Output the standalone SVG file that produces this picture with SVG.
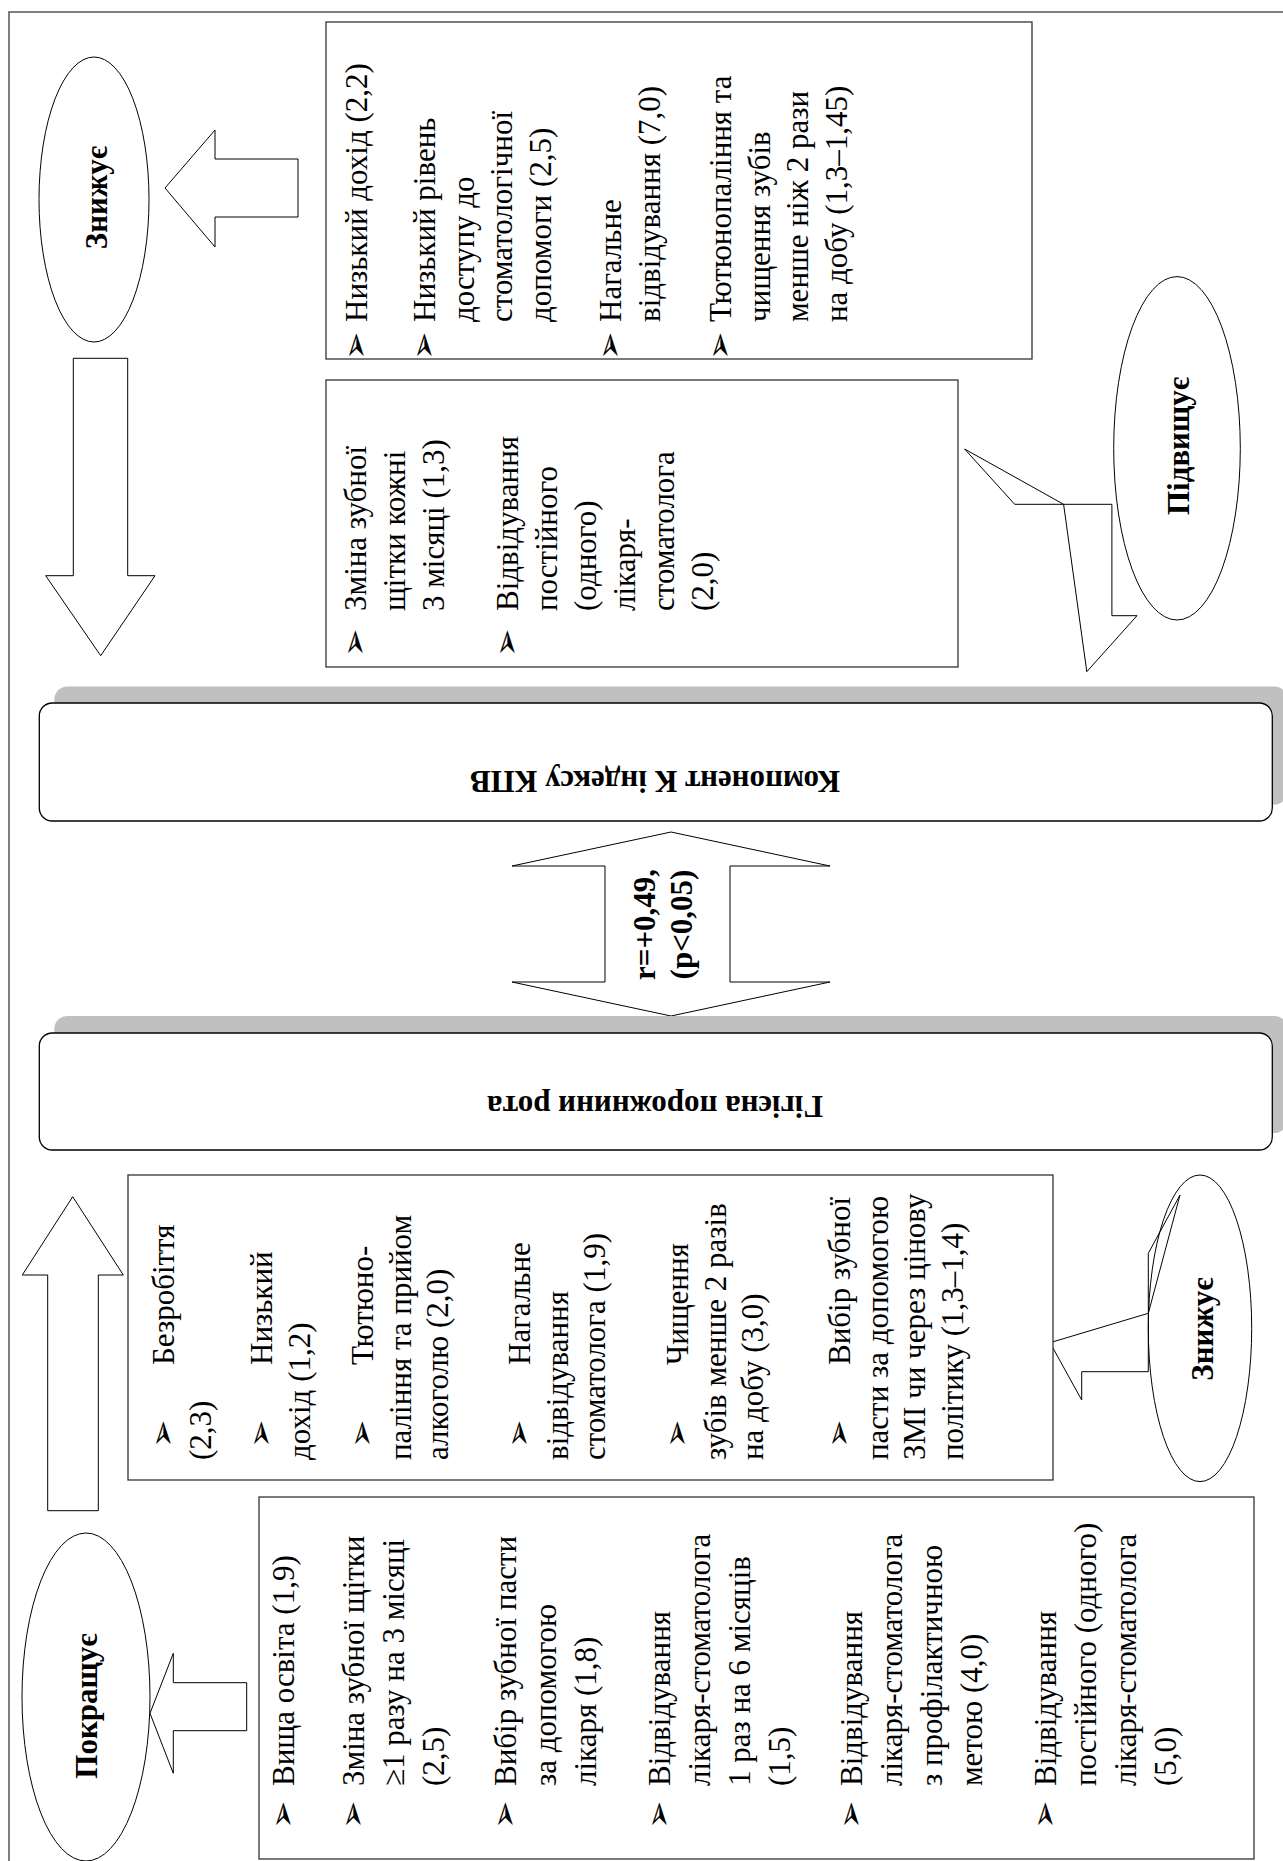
<svg xmlns="http://www.w3.org/2000/svg" width="1283" height="1861" viewBox="0 0 1283 1861">
<defs>
<style>
.frame{fill:none;stroke:#555;stroke-width:1.5}
.box{fill:#fff;stroke:#333;stroke-width:1.3}
.ell{fill:#fff;stroke:#000;stroke-width:1}
.arr{fill:#fff;stroke:#000;stroke-width:1;stroke-linejoin:miter}
.shp{fill:none;stroke:#000;stroke-width:1}
.shadow{fill:#c0c0c0}
.bar{fill:#fff;stroke:#000;stroke-width:1.3}
.t{font-family:"Liberation Serif","Times New Roman",serif;font-size:31px;fill:#000}
.lbl{font-family:"Liberation Serif","Times New Roman",serif;font-weight:bold;font-size:31px;fill:#000;text-anchor:middle}
.bul{font-family:"DejaVu Sans",sans-serif;font-size:34px;fill:#000}
</style>
</defs>
<rect width="1283" height="1861" fill="#fff"/>
<path class="frame" d="M9,1861 V12 H1283"/>

<g id="connectors">
  <polygon class="arr" points="165,188 215,130 215,159 298,159 298,217 215,217 215,247"/>
  <polygon class="arr" points="73.3,358.3 127.7,358.3 127.7,575.7 155,575.7 100.7,655.7 45.7,575.7 73.3,575.7"/>
  <polygon class="arr" points="671,832 830,866 730,866 730,982 830,982 671,1016 512,982 605,982 605,866 512,866"/>
  <polygon class="arr" points="72.7,1196.7 123.3,1275 98.3,1275 98.3,1510.7 47.7,1510.7 47.7,1275 22.3,1275"/>
  <polygon class="arr" points="150,1713.3 173.3,1653.3 173.3,1682.7 246.7,1682.7 246.7,1730.7 173.3,1730.7 173.3,1773.3"/>
</g>

<g id="ellipse-znyzhuie-top">
  <ellipse class="ell" cx="94" cy="199.5" rx="55" ry="142.5"/>
  <text class="lbl" transform="translate(107,197.5) rotate(-90)">Знижує</text>
</g>

<g id="ellipse-pidvyshchuie">
  <ellipse class="ell" cx="1177" cy="448.3" rx="63.3" ry="171.7"/>
  <text class="lbl" transform="translate(1189,446) rotate(-90)">Підвищує</text>
</g>

<g id="ellipse-znyzhuie-bottom">
  <ellipse class="ell" cx="1200" cy="1328.3" rx="51.7" ry="153.3"/>
  <text class="lbl" transform="translate(1213,1329) rotate(-90)">Знижує</text>
</g>

<g id="ellipse-pokrashchuie">
  <ellipse class="ell" cx="86" cy="1697" rx="64" ry="164"/>
  <text class="lbl" transform="translate(97,1706) rotate(-90)">Покращує</text>
</g>

<g id="callout-arrows">
  <polygon class="shp" points="964.6,449 1014.7,504.3 1111.9,504.3 1111.9,615.7 1137,615.7 1086.8,671.7 1063.6,504.3"/>
  <polygon class="shp" points="1180,1195 1148.3,1253.3 1148.3,1371.7 1081.7,1371.7 1081.7,1400 1050,1342.7 1148.3,1313.3"/>
</g>

<g id="box-top-right">
  <rect class="box" x="326" y="22" width="706" height="337"/>
  <g transform="translate(0,322) rotate(-90)">
    <text class="bul" x="-38" y="367">➢</text>
    <text class="bul" x="-38" y="435">➢</text>
    <text class="bul" x="-38" y="621">➢</text>
    <text class="bul" x="-38" y="731">➢</text>
    <text class="t" x="0" y="367">Низький дохід (2,2)</text>
    <text class="t" x="0" y="435">Низький рівень</text>
    <text class="t" x="0" y="473.5">доступу до</text>
    <text class="t" x="0" y="512">стоматологічної</text>
    <text class="t" x="0" y="550.5">допомоги (2,5)</text>
    <text class="t" x="0" y="621">Нагальне</text>
    <text class="t" x="0" y="659.5">відвідування (7,0)</text>
    <text class="t" x="0" y="731">Тютюнопаління та</text>
    <text class="t" x="0" y="769.5">чищення зубів</text>
    <text class="t" x="0" y="808">менше ніж 2 рази</text>
    <text class="t" x="0" y="846.5">на добу (1,3–1,45)</text>
  </g>
</g>

<g id="box-middle-right">
  <rect class="box" x="326" y="380" width="632" height="287"/>
  <g transform="translate(0,611) rotate(-90)">
    <text class="bul" x="-46" y="366">➢</text>
    <text class="bul" x="-46" y="518">➢</text>
    <text class="t" x="0" y="366">Зміна зубної</text>
    <text class="t" x="0" y="405">щітки кожні</text>
    <text class="t" x="0" y="444">3 місяці (1,3)</text>
    <text class="t" x="0" y="518">Відвідування</text>
    <text class="t" x="0" y="557">постійного</text>
    <text class="t" x="0" y="596">(одного)</text>
    <text class="t" x="0" y="635">лікаря-</text>
    <text class="t" x="0" y="674">стоматолога</text>
    <text class="t" x="0" y="713">(2,0)</text>
  </g>
</g>

<g id="bar-kpv">
  <rect class="shadow" x="54.3" y="686.5" width="1233" height="118" rx="13"/>
  <rect class="bar" x="39.3" y="703" width="1233" height="118" rx="13"/>
  <text class="lbl" transform="translate(655,771) rotate(180)">Компонент К індексу КПВ</text>
</g>

<g id="correlation-label">
  <text class="lbl" transform="translate(655,924.5) rotate(-90)">r=+0,49,</text>
  <text class="lbl" transform="translate(692,924.5) rotate(-90)">(p&lt;0,05)</text>
</g>

<g id="bar-hygiene">
  <rect class="shadow" x="54.3" y="1016" width="1233" height="117" rx="13"/>
  <rect class="bar" x="39.3" y="1033" width="1233" height="117" rx="13"/>
  <text class="lbl" transform="translate(655,1096) rotate(180)">Гігієна порожнини рота</text>
</g>

<g id="box-bottom-middle">
  <rect class="box" x="128" y="1175" width="925" height="305"/>
  <g transform="translate(0,1460) rotate(-90)">
    <text class="bul" x="12" y="173.5">➢</text>
    <text class="bul" x="12" y="272">➢</text>
    <text class="bul" x="12" y="373">➢</text>
    <text class="bul" x="12" y="530">➢</text>
    <text class="bul" x="12" y="688">➢</text>
    <text class="bul" x="12" y="850">➢</text>
    <text class="t" x="95" y="173.5">Безробіття</text>
    <text class="t" x="0" y="211">(2,3)</text>
    <text class="t" x="95" y="272">Низький</text>
    <text class="t" x="0" y="309.5">дохід (1,2)</text>
    <text class="t" x="95" y="373">Тютюно-</text>
    <text class="t" x="0" y="410.5">паління та прийом</text>
    <text class="t" x="0" y="448">алкоголю (2,0)</text>
    <text class="t" x="95" y="530">Нагальне</text>
    <text class="t" x="0" y="567.5">відвідування</text>
    <text class="t" x="0" y="605">стоматолога (1,9)</text>
    <text class="t" x="95" y="688">Чищення</text>
    <text class="t" x="0" y="725.5">зубів менше 2 разів</text>
    <text class="t" x="0" y="763">на добу (3,0)</text>
    <text class="t" x="95" y="850">Вибір зубної</text>
    <text class="t" x="0" y="887.5">пасти за допомогою</text>
    <text class="t" x="0" y="925">ЗМІ чи через цінову</text>
    <text class="t" x="0" y="962.5">політику (1,3–1,4)</text>
  </g>
</g>

<g id="box-bottom-left">
  <rect class="box" x="259" y="1497" width="995" height="362"/>
  <g transform="translate(0,1786) rotate(-90)">
    <text class="bul" x="-43" y="294">➢</text>
    <text class="bul" x="-43" y="364">➢</text>
    <text class="bul" x="-43" y="516">➢</text>
    <text class="bul" x="-43" y="670">➢</text>
    <text class="bul" x="-43" y="862">➢</text>
    <text class="bul" x="-43" y="1056">➢</text>
    <text class="t" x="0" y="294">Вища освіта (1,9)</text>
    <text class="t" x="0" y="364">Зміна зубної щітки</text>
    <text class="t" x="0" y="404">≥1 разу на 3 місяці</text>
    <text class="t" x="0" y="444">(2,5)</text>
    <text class="t" x="0" y="516">Вибір зубної пасти</text>
    <text class="t" x="0" y="556">за допомогою</text>
    <text class="t" x="0" y="596">лікаря (1,8)</text>
    <text class="t" x="0" y="670">Відвідування</text>
    <text class="t" x="0" y="710">лікаря-стоматолога</text>
    <text class="t" x="0" y="750">1 раз на 6 місяців</text>
    <text class="t" x="0" y="790">(1,5)</text>
    <text class="t" x="0" y="862">Відвідування</text>
    <text class="t" x="0" y="902">лікаря-стоматолога</text>
    <text class="t" x="0" y="942">з профілактичною</text>
    <text class="t" x="0" y="982">метою (4,0)</text>
    <text class="t" x="0" y="1056">Відвідування</text>
    <text class="t" x="0" y="1096">постійного (одного)</text>
    <text class="t" x="0" y="1136">лікаря-стоматолога</text>
    <text class="t" x="0" y="1176">(5,0)</text>
  </g>
</g>
</svg>
